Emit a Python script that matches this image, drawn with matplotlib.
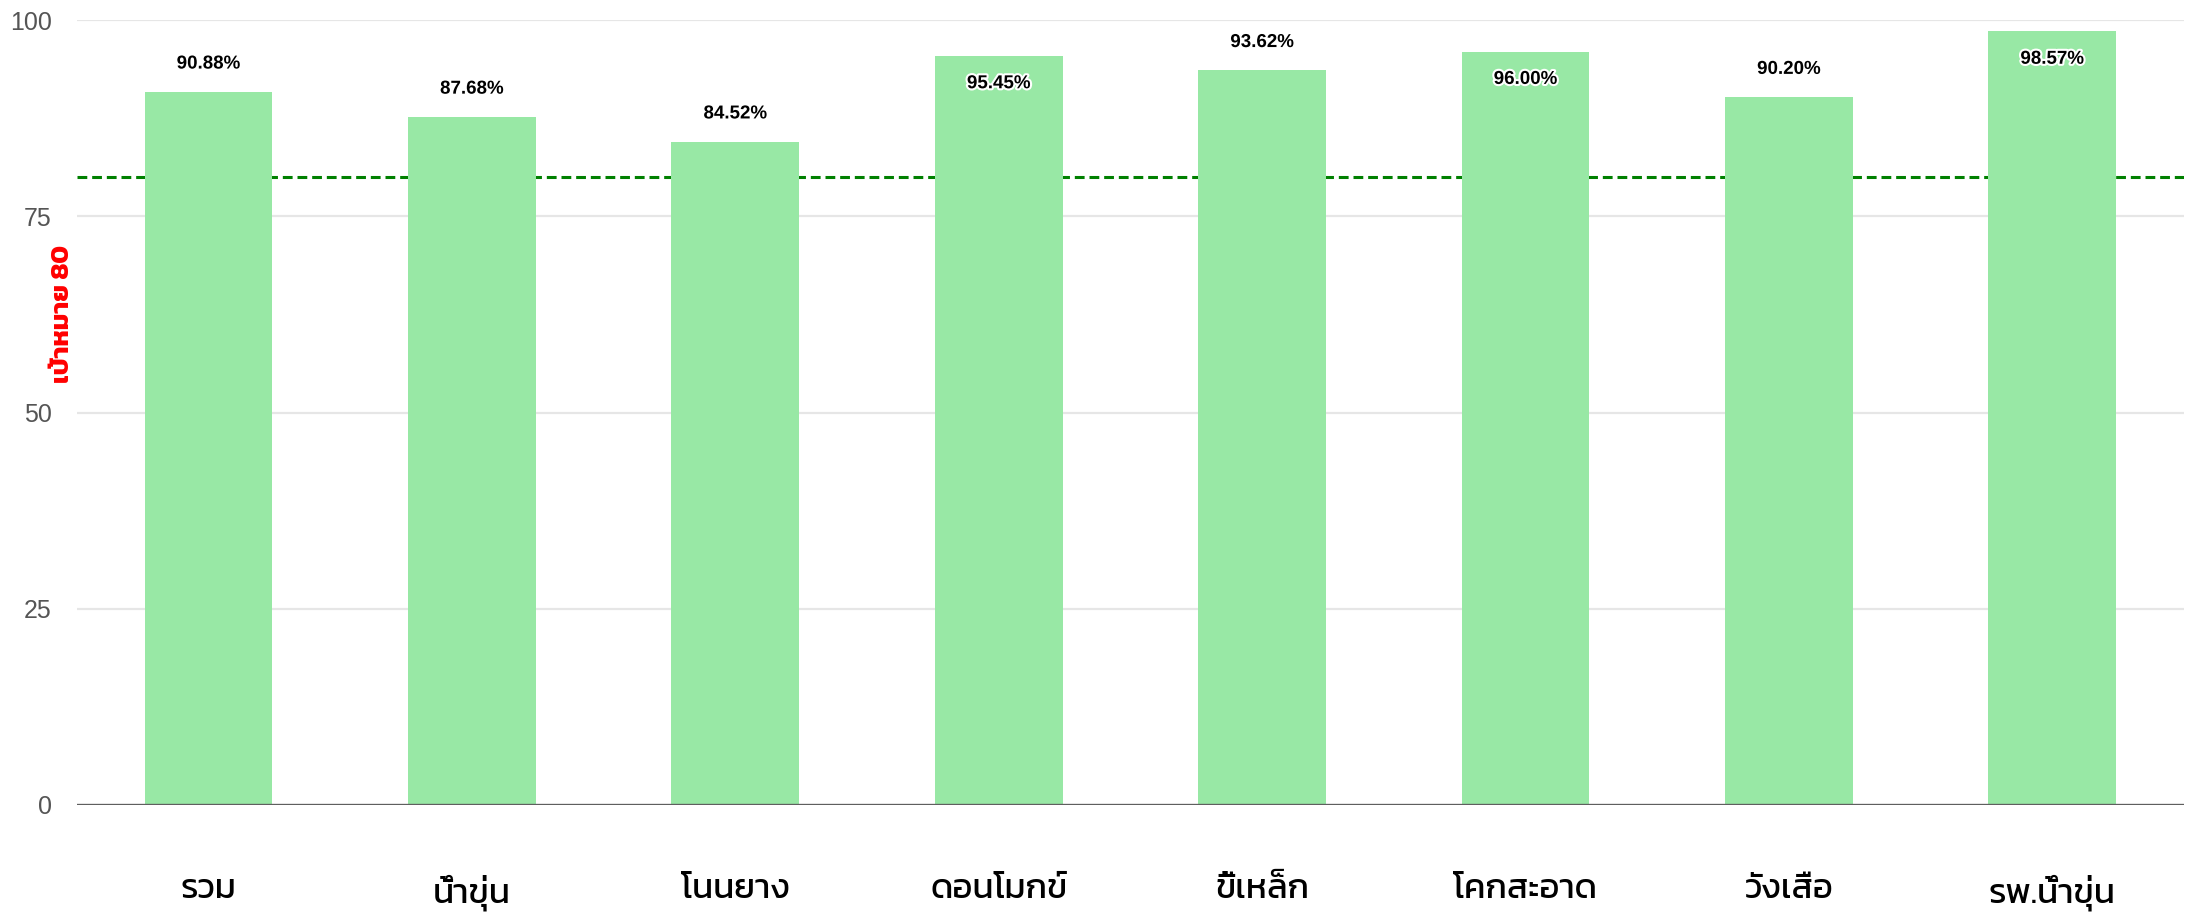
import matplotlib
matplotlib.use('Agg')
import matplotlib.pyplot as plt
import matplotlib.patheffects as pe

# ข้อมูล
categories = ['รวม', 'น้ำขุ่น', 'โนนยาง', 'ดอนโมกข์', 'ขี้เหล็ก', 'โคกสะอาด', 'วังเสือ', 'รพ.น้ำขุ่น']
values = [90.88, 87.68, 84.52, 95.45, 93.62, 96.00, 90.20, 98.57]
target = 80
target_label = 'เป้าหมาย 80'
yticks = [0, 25, 50, 75, 100]

fig = plt.figure(figsize=(21.96, 9.21), dpi=100)
ax = fig.add_axes([0.035, 0.126, 0.9595, 0.852])

x = range(len(categories))
ax.bar(x, values, width=0.485, color='#98e8a5', zorder=3)

# เส้นเป้าหมาย
ax.axhline(target, color='#008000', lw=2.2, linestyle=(0, (3.2, 1.6)), zorder=2)

# เส้นกริด
for t in yticks[1:]:
    ax.axhline(t, color='#e6e6e6', lw=1.6, zorder=1)
ax.axhline(0, color='#5f5f5f', lw=2.4, zorder=4)

# ป้ายค่า (ถ้าแท่งสูงเกินไปให้วางไว้ในแท่ง)
for i, v in enumerate(values):
    dy = -20 if v > 95 else 20
    ax.annotate(f'{v:.2f}%', (i, v), xytext=(0, dy), textcoords='offset points',
                ha='center', va='center', fontsize=13.5, fontweight='bold',
                family=['Liberation Sans', 'DejaVu Sans'], color='black', zorder=5,
                path_effects=[pe.withStroke(linewidth=3, foreground='white')])

# ข้อความเป้าหมาย
ax.text(-0.001, 62.5, target_label, transform=ax.get_yaxis_transform(), rotation=90,
        ha='right', va='center', color='red', fontsize=19, fontweight='bold',
        family=['Kanit', 'DejaVu Sans'])

ax.set_xlim(-0.5, len(categories) - 0.5)
ax.set_ylim(0, 100)
ax.set_yticks(yticks)
ax.set_yticklabels([str(t) for t in yticks], family=['Liberation Sans Narrow', 'Liberation Sans'],
                   fontsize=18, color='#555555')
ax.set_xticks(list(x))
ax.set_xticklabels(categories, family=['Kanit', 'DejaVu Sans'], fontsize=25, color='black')
ax.tick_params(axis='both', length=0)
ax.tick_params(axis='y', pad=18)
ax.tick_params(axis='x', pad=50)
for s in ax.spines.values():
    s.set_visible(False)

fig.savefig('out.png', dpi=100)
